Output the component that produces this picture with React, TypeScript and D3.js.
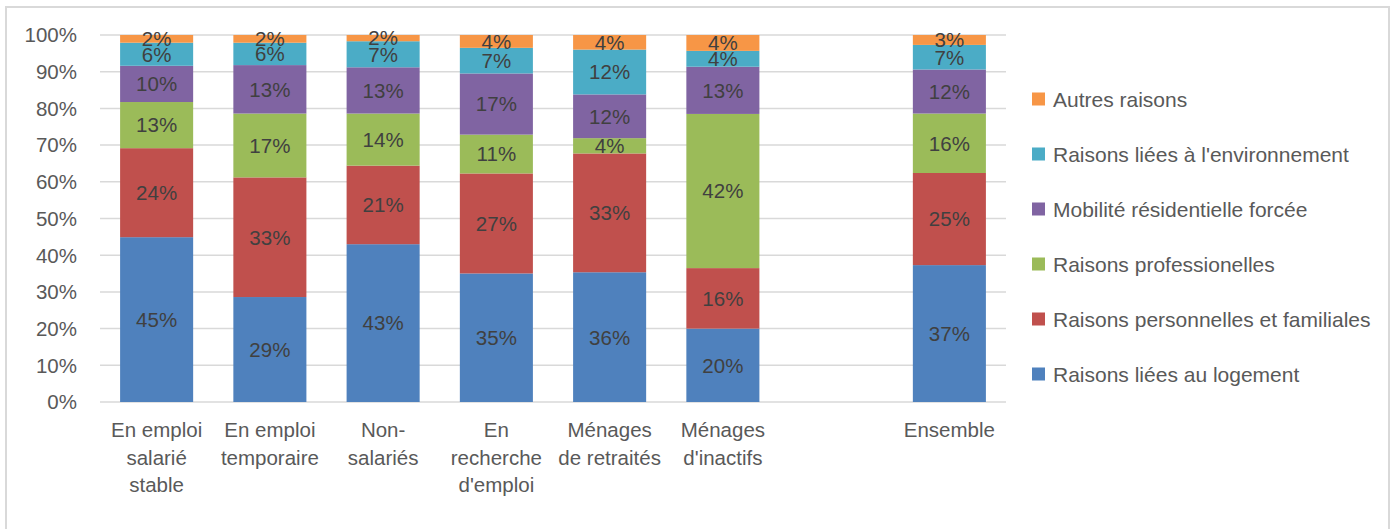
import React from "react";
import * as d3 from "d3";

// categories (the empty slot leaves a gap before "Ensemble")
const categories: string[][] = [
  ["En emploi", "salarié", "stable"],
  ["En emploi", "temporaire"],
  ["Non-", "salariés"],
  ["En", "recherche", "d'emploi"],
  ["Ménages", "de retraités"],
  ["Ménages", "d'inactifs"],
  [],
  ["Ensemble"],
];

const seriesNames = [
  "Raisons liées au logement",
  "Raisons personnelles et familiales",
  "Raisons professionelles",
  "Mobilité résidentielle forcée",
  "Raisons liées à l'environnement",
  "Autres raisons",
];

const logement = [45.0, 28.6, 43.0, 35.1, 35.6, 19.9, 0, 37.3];
const personnelles = [24.3, 32.6, 21.4, 27.3, 32.6, 16.4, 0, 25.1];
const professionelles = [12.6, 17.4, 14.2, 10.6, 4.2, 41.8, 0, 16.2];
const mobilite = [9.9, 13.2, 12.6, 16.7, 12.0, 12.8, 0, 12.0];
const environnement = [6.3, 6.1, 7.1, 7.0, 12.3, 4.3, 0, 6.7];
const autres = [2.1, 2.1, 1.7, 3.5, 4.0, 4.3, 0, 2.7];

const yTicks = [0, 0.1, 0.2, 0.3, 0.4, 0.5, 0.6, 0.7, 0.8, 0.9, 1];

const colors = ["#4F81BD", "#C0504D", "#9BBB59", "#8064A2", "#4BACC6", "#F79646"];

const width = 1395;
const height = 529;
const plot = { left: 100, right: 1006, top: 35, bottom: 402 };
const font = "'Liberation Sans', Arial, sans-serif";

const allSeries = [logement, personnelles, professionelles, mobilite, environnement, autres];

type Row = { key: string; [k: string]: number | string };
const rows: Row[] = categories.map((c, i) => {
  const r: Row = { key: c.join(" ") || `gap${i}` };
  seriesNames.forEach((s, j) => (r[s] = allSeries[j][i]));
  return r;
});

const x = d3
  .scaleBand<string>()
  .domain(rows.map((r) => r.key))
  .range([plot.left, plot.right])
  .paddingInner(0.355)
  .paddingOuter(0.1775);

const y = d3.scaleLinear().domain([0, 1]).range([plot.bottom, plot.top]);

const stack = d3
  .stack<Row>()
  .keys(seriesNames)
  .value((d, k) => d[k] as number)
  .offset(d3.stackOffsetExpand);

const stacked = stack(rows);

const App = () => {
  return (
    <svg
      width={width}
      height={height}
      style={{ position: "absolute", left: 0, top: 0, background: "#fff" }}
      fontFamily={font}
    >
      <rect x={6} y={7} width={1383} height={540} fill="#fff" stroke="#D9D9D9" strokeWidth={2} />

      {/* gridlines */}
      {yTicks.map((t) => (
        <g key={t}>
          <line
            x1={plot.left}
            x2={plot.right}
            y1={y(t)}
            y2={y(t)}
            stroke="#D9D9D9"
            strokeWidth={1.5}
          />
          <text
            x={77}
            y={y(t)}
            dy="0.36em"
            textAnchor="end"
            fontSize={20.5}
            fill="#595959"
          >
            {d3.format(".0%")(t)}
          </text>
        </g>
      ))}

      {/* bars */}
      {stacked.map((s, si) => (
        <g key={s.key} fill={colors[si]}>
          {s.map((d, i) => {
            const raw = allSeries[si][i];
            if (!raw) return null;
            const key = rows[i].key;
            const y0 = y(d[0]);
            const y1 = y(d[1]);
            return (
              <g key={key}>
                <rect x={x(key)} y={y1} width={x.bandwidth()} height={y0 - y1} />
                <text
                  x={(x(key) as number) + x.bandwidth() / 2}
                  y={(y0 + y1) / 2}
                  dy="0.36em"
                  textAnchor="middle"
                  fontSize={20.5}
                  fill="#404040"
                >
                  {Math.round(raw)}%
                </text>
              </g>
            );
          })}
        </g>
      ))}

      {/* x axis labels */}
      {rows.map((r, i) => (
        <text
          key={r.key}
          x={(x(r.key) as number) + x.bandwidth() / 2}
          textAnchor="middle"
          fontSize={20.5}
          fill="#595959"
        >
          {categories[i].map((line, li) => (
            <tspan key={li} x={(x(r.key) as number) + x.bandwidth() / 2} y={437 + li * 27.5}>
              {line}
            </tspan>
          ))}
        </text>
      ))}

      {/* legend, top item is the last series */}
      {seriesNames
        .slice()
        .reverse()
        .map((s, i) => {
          const cy = 99 + i * 55;
          return (
            <g key={s}>
              <rect
                x={1032}
                y={cy - 6.5}
                width={13}
                height={13}
                fill={colors[seriesNames.length - 1 - i]}
              />
              <text x={1053} y={cy} dy="0.36em" fontSize={21} fill="#595959">
                {s}
              </text>
            </g>
          );
        })}
    </svg>
  );
};

export default App;
